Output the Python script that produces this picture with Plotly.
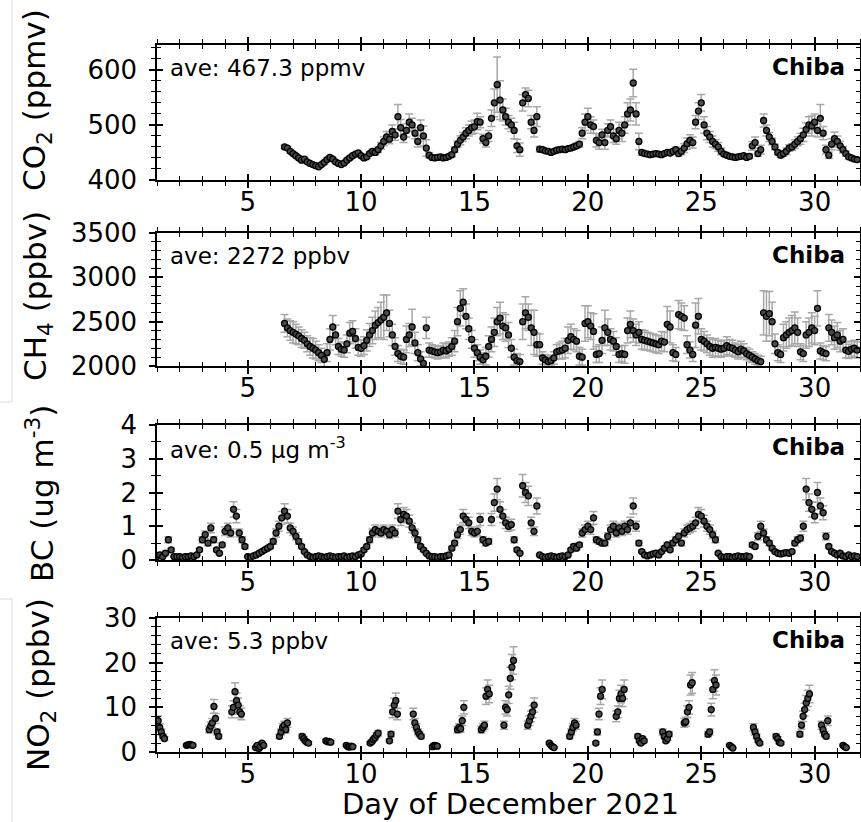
import plotly.graph_objects as go

# ---------------- data (3-hourly series; day of December 2021) ----------------
STEP = 0.125

co2_start = 6.625
co2_values = [
    460, 458, 452,
    448, 444, 440, 436, 438, 433, 430, 428,
    426, 424, 428, 432, 437, 441, 438, 433,
    430, 428, 431, 436, 440, 444, 447, 449,
    444, 440, 442, 448, 452, 450, 455, 462,
    470, 478, 474, 488, 482, 515, 495, 478,
    490, 505, 500, 485, 470, 495, 480, 458,
    445, 441, 440, 441, 442, 440, 441, 443,
    446, 455, 465, 472, 478, 485, 490, 495,
    497, 506, 505, 475, 468, 480, 512, 540,
    573, 545, 527, 515, 505, 500, 490, 462,
    455, 540, 555, 548, 505, 490, 515, 456,
    455, 453, 452, 450, 452, 454, 455, 456,
    455, 457, 458, 460, 462, 465, 485, 505,
    515, 500, 497, 472, 468, 482, 468, 490,
    497, 480, 475, 490, 485, 500, 520, 527,
    576, 520, 470, 450, 448, 447, 446, 447,
    448, 447, 446, 448, 450, 449, 452, 455,
    448, 452, 458, 466, 472, 468, 505, 525,
    540, 500, 485, 478, 470, 465, 460, 452,
    447, 445, 443, 442, 441, 442, 443, 444,
    441, 443, 462, 468, 448, 455, 508, 490,
    478, 470, 460, 450, 445, 448, 452, 458,
    460, 465, 470, 475, 482, 492, 500, 498,
    505, 490, 512, 485, 455, 445, 465, 475,
    470, 462, 455, 448, 442, 440, 438, 437,
]
co2_errors = [
    3, 3, 3,
    3, 3, 3, 3, 3, 3, 3, 3,
    3, 3, 3, 3, 3, 3, 3, 3,
    3, 3, 3, 3, 3, 3, 3, 3,
    3, 3, 3, 3, 4, 4, 5, 6,
    8, 10, 8, 12, 10, 22, 15, 10,
    12, 15, 12, 10, 10, 14, 18, 15,
    5, 3, 3, 3, 3, 3, 3, 3,
    4, 5, 6, 8, 8, 10, 10, 12,
    12, 15, 10, 8, 8, 10, 15, 25,
    50, 35, 20, 15, 12, 12, 15, 12,
    12, 15, 12, 15, 12, 12, 18, 5,
    4, 3, 3, 3, 3, 3, 3, 3,
    3, 3, 4, 4, 5, 5, 10, 15,
    15, 15, 12, 12, 12, 10, 12, 12,
    12, 12, 10, 15, 15, 15, 20, 20,
    25, 20, 15, 5, 4, 3, 3, 3,
    3, 3, 3, 3, 3, 4, 4, 5,
    5, 6, 8, 10, 10, 10, 12, 15,
    15, 15, 12, 10, 10, 8, 8, 6,
    3, 3, 3, 3, 3, 3, 3, 3,
    3, 4, 8, 10, 5, 8, 12, 10,
    8, 6, 5, 4, 4, 5, 6, 6,
    6, 8, 8, 10, 12, 12, 15, 18,
    15, 12, 25, 12, 8, 6, 10, 12,
    10, 8, 6, 5, 4, 3, 3, 3,
]

ch4_start = 6.625
ch4_values = [
    2480, 2430, 2400,
    2380, 2360, 2340, 2310, 2290, 2250, 2220, 2200,
    2180, 2150, 2120, 2075, 2150, 2300, 2440, 2350,
    2220, 2190, 2180, 2250, 2370, 2390, 2310, 2210,
    2200, 2230, 2290, 2350, 2400, 2460, 2490, 2520,
    2550, 2600, 2480, 2350, 2220, 2140, 2110, 2100,
    2300, 2350, 2440, 2260, 2150, 2080, 2030, 2430,
    2180, 2170, 2160, 2150, 2160, 2180, 2170, 2190,
    2220, 2280, 2500, 2650, 2720, 2560, 2420, 2300,
    2200, 2150, 2100, 2070, 2110, 2220, 2300, 2380,
    2500, 2540, 2450, 2430, 2350, 2200, 2100, 2060,
    2050, 2500, 2600, 2550, 2430, 2380, 2240, 2240,
    2090, 2070, 2050, 2060, 2090, 2160, 2170, 2180,
    2200, 2290, 2330, 2300, 2280, 2110, 2100, 2480,
    2500, 2450, 2390, 2130, 2140, 2290, 2430, 2380,
    2300, 2280, 2220, 2130, 2140, 2130, 2400, 2470,
    2400, 2350, 2380, 2300, 2290, 2280, 2270, 2260,
    2250, 2240, 2280, 2270, 2470, 2440, 2150, 2130,
    2580, 2560, 2540, 2240, 2180, 2130, 2460, 2560,
    2300, 2280, 2250, 2220, 2200, 2210, 2200, 2190,
    2200, 2230, 2210, 2200, 2180, 2160, 2190, 2170,
    2140, 2120, 2100, 2080, 2060, 2050, 2600, 2560,
    2590, 2500, 2250, 2150, 2130, 2320, 2350, 2380,
    2400, 2430, 2380, 2160, 2140, 2350, 2380, 2430,
    2400, 2650, 2170, 2150, 2140, 2430, 2380, 2320,
    2350, 2280, 2300, 2180, 2165, 2190, 2200, 2180,
]
ch4_errors = [
    100, 100, 110,
    120, 110, 100, 100, 90, 90, 100, 110,
    100, 90, 80, 80, 100, 120, 130, 110,
    90, 80, 80, 100, 120, 120, 110, 90,
    90, 100, 120, 130, 150, 160, 170, 200,
    250, 200, 150, 120, 100, 90, 80, 80,
    150, 130, 200, 120, 90, 80, 70, 120,
    80, 70, 70, 70, 70, 80, 80, 80,
    100, 120, 160, 200, 150, 140, 120, 100,
    100, 90, 80, 80, 100, 120, 140, 160,
    160, 180, 150, 150, 140, 100, 90, 80,
    80, 200, 180, 150, 200, 250, 130, 120,
    70, 60, 60, 60, 70, 80, 90, 100,
    110, 150, 140, 120, 120, 100, 90, 200,
    180, 150, 200, 90, 100, 150, 200, 150,
    120, 110, 100, 90, 90, 100, 140, 150,
    130, 120, 120, 110, 110, 100, 100, 100,
    100, 100, 110, 110, 200, 180, 90, 80,
    160, 150, 140, 100, 90, 80, 250, 200,
    120, 110, 100, 100, 100, 100, 90, 90,
    90, 100, 90, 90, 80, 80, 90, 80,
    70, 70, 60, 60, 60, 60, 250, 280,
    250, 220, 110, 90, 90, 150, 150, 160,
    170, 180, 160, 90, 90, 150, 160, 170,
    160, 200, 90, 80, 80, 150, 140, 130,
    140, 120, 120, 90, 80, 90, 90, 90,
]

bc_start = 1.0
bc_values = [
    0.1, 0.15, 0.1, 0.2, 0.6, 0.3, 0.1, 0.1,
    0.1, 0.08, 0.1, 0.1, 0.12, 0.1, 0.15, 0.3,
    0.6, 0.75, 0.5, 0.95, 0.6, 0.3, 0.2, 0.45,
    0.85, 0.95, 0.8, 1.5, 1.3, 0.8, 0.6, 0.4,
    0.1, 0.08, 0.12, 0.15, 0.2, 0.25, 0.3, 0.35,
    0.4, 0.55, 0.8, 1.0, 1.25, 1.45, 1.3, 0.95,
    0.85, 0.7, 0.55, 0.4, 0.25, 0.15, 0.1, 0.08,
    0.1, 0.12, 0.1, 0.08, 0.1, 0.12, 0.1, 0.08,
    0.1, 0.1, 0.12, 0.08, 0.1, 0.12, 0.1, 0.15,
    0.18, 0.3, 0.4, 0.6, 0.8, 0.9, 0.85, 0.8,
    0.9, 0.85, 0.75, 0.9, 0.8, 1.45, 1.2, 1.35,
    1.3, 1.15, 0.95, 0.8, 0.6, 0.4, 0.3, 0.2,
    0.12, 0.1, 0.1, 0.08, 0.1, 0.1, 0.12, 0.15,
    0.35, 0.5, 0.75, 0.9, 1.3, 1.2, 1.1, 0.85,
    0.8, 0.85, 1.2, 0.6, 0.5, 0.55, 1.2, 1.7,
    2.1, 1.5, 1.3, 1.1, 1.0, 1.05, 0.6, 0.3,
    0.2, 2.2, 2.0, 1.9, 1.1, 0.85, 1.6, 0.15,
    0.1, 0.08, 0.1, 0.12, 0.1, 0.08, 0.1, 0.12,
    0.1, 0.15, 0.3, 0.4, 0.35, 0.45, 0.8, 0.9,
    1.0, 0.9, 1.25, 0.6, 0.55, 0.5, 0.5, 0.7,
    0.9, 1.0, 0.8, 0.95, 0.85, 1.0, 0.9, 1.1,
    1.6, 1.0, 0.5, 0.25, 0.15, 0.12, 0.15, 0.18,
    0.2, 0.15, 0.25, 0.35, 0.45, 0.3, 0.5, 0.6,
    0.7, 0.5, 0.8, 0.9, 0.95, 1.0, 1.1, 1.35,
    1.3, 1.15, 1.0, 0.9, 0.75, 0.6, 0.2, 0.1,
    0.08, 0.1, 0.1, 0.08, 0.1, 0.12, 0.1, 0.1,
    0.12, 0.1, 0.45, 0.4, 0.7, 1.0, 0.8, 0.6,
    0.5, 0.35, 0.25, 0.2, 0.18, 0.2, 0.22, 0.2,
    0.25, 0.5, 0.6, 0.65, 1.0, 2.1, 1.7, 1.5,
    1.3, 2.0, 1.6, 1.4, 0.7, 0.4, 0.25, 0.2,
    0.15, 0.2, 0.12, 0.1, 0.15, 0.1, 0.12, 0.1,
]

# NO2 is measured in daytime clusters: cluster start day and its successive values
NO2_STEP = 0.07
no2_cluster_start = [1.05, 2.3, 3.3, 4.3, 5.35, 6.4, 7.4, 8.45, 9.35, 10.4,
                     11.25, 12.3, 13.15, 14.25, 15.3, 16.3, 17.35, 18.3, 19.2,
                     20.35, 21.25, 22.2, 23.3, 24.25, 25.3, 26.25, 27.3, 28.3,
                     29.35, 30.3, 31.25]
no2_cluster_values = [
    [7, 5.5, 4.5, 3.5, 3],
    [1.5, 1.6, 1.7, 1.6, 1.5],
    [5, 5.8, 6.5, 10.2, 7.5, 4.5, 3.5],
    [9, 10, 13.5, 11.5, 10.5, 9, 8.5],
    [1, 1.5, 0.8, 1.2, 2, 1.5],
    [3.5, 4.5, 5.5, 6, 5, 6.5],
    [3.5, 3, 2.5, 2.2, 2],
    [2.5, 2.3, 2.4, 2.2],
    [1.5, 1.2, 1.1, 1.3, 1.2],
    [2, 2.3, 2.8, 3.2, 3.8, 4.2],
    [2.5, 4, 9, 10.5, 11.5, 8.5],
    [8.5, 6.5, 5.5, 4.5, 4, 3.5],
    [1.2, 1.5, 1.4, 1.3],
    [5, 5.5, 5.2, 7, 10],
    [5, 5.5, 6, 12.5, 14, 13],
    [6, 10, 9.5, 12.8, 16.5, 19, 20.5],
    [6, 7, 8, 9, 10.5],
    [2, 1.5, 1.2, 1],
    [3.5, 4.5, 5.5, 6.5, 6],
    [2, 4.5, 8.5, 12.5, 14],
    [8, 9, 12, 13, 12, 14],
    [3.5, 2.5, 2, 3, 2.5],
    [4.5, 3.5, 2.5, 3, 4],
    [6.5, 6.8, 9, 10, 15, 15.5],
    [4, 4.5, 9.5, 14, 16, 15],
    [1.5, 1.2, 0.9],
    [5.5, 4.5, 3.5, 2.5, 2],
    [3.5, 3, 2.2, 2],
    [4, 6, 8, 9.5, 11, 12, 13],
    [6, 5, 4, 3.5, 7],
    [1.5, 1.2, 1],
]

ave_texts = ["ave: 467.3 ppmv", "ave: 2272 ppbv",
             "ave: 0.5 \u03bcg m<sup>-3</sup>", "ave: 5.3 ppbv"]
y_titles = ["CO<sub>2</sub> (ppmv)", "CH<sub>4</sub> (ppbv)",
            "BC (ug m<sup>-3</sup>)", "NO<sub>2</sub> (ppbv)"]
site_label = "Chiba"
x_title = "Day of December 2021"
x_range = [1, 32]
y_ranges = [[400, 645], [2000, 3500], [0, 4], [0, 30]]
y_dticks = [100, 500, 1, 10]
y_minor = [20, 100, 0.5, 2]

# ---------------- layout geometry (pixels of the 861x822 page) ----------------
W, H = 861, 822
ML, MR = 157, 1
PW = W - ML - MR
FONT = "DejaVu Sans"
panel_px = [(45, 180), (233, 366), (425, 560), (618, 752)]
domains = [[1 - b / H, 1 - t / H] for t, b in panel_px]
title_y_px = [100, 296, 494, 685]
title_x_px = [37, 37, 40, 40]


def px_x(px):
    return (px - ML) / PW


def px_y(py):
    return 1 - py / H


def days_from(start, n):
    return [start + i * STEP for i in range(n)]


no2_x, no2_y = [], []
for s, vals in zip(no2_cluster_start, no2_cluster_values):
    for k, v in enumerate(vals):
        no2_x.append(s + k * NO2_STEP)
        no2_y.append(v)

marker = dict(symbol="circle", size=6, color="#4a4a4a",
              line=dict(color="black", width=1.3))
err_style = dict(color="#a8a8a8", thickness=1.5, width=4, visible=True)

series = [
    (days_from(co2_start, len(co2_values)), co2_values,
     dict(type="data", array=co2_errors, **err_style)),
    (days_from(ch4_start, len(ch4_values)), ch4_values,
     dict(type="data", array=ch4_errors, **err_style)),
    (days_from(bc_start, len(bc_values)), bc_values,
     dict(type="percent", value=15, **err_style)),
    (no2_x, no2_y, dict(type="percent", value=15, **err_style)),
]

fig = go.Figure()
for i, (xs, ys, err) in enumerate(series):
    n = i + 1
    sfx = "" if n == 1 else str(n)
    fig.add_trace(go.Scatter(x=xs, y=ys, mode="markers", marker=marker,
                             error_y=err, xaxis="x" + sfx, yaxis="y" + sfx,
                             showlegend=False, hoverinfo="skip"))
    # empty trace on the overlay axes (carries the inward half of crossing ticks)
    fig.add_trace(go.Scatter(x=[], y=[], xaxis="x" + str(n + 4),
                             yaxis="y" + str(n + 4), showlegend=False,
                             hoverinfo="skip"))

layout = dict(
    width=W, height=H,
    margin=dict(l=ML, r=MR, t=0, b=0, autoexpand=False),
    paper_bgcolor="white", plot_bgcolor="rgba(0,0,0,0)",
    font=dict(family=FONT, color="black"),
    showlegend=False,
)

tickfont = dict(family=FONT, size=26, color="black")
annotations = []
for i in range(4):
    n = i + 1
    sfx = "" if n == 1 else str(n)
    common_x = dict(range=x_range, tickmode="linear", tick0=0, dtick=5,
                    showgrid=False, zeroline=False, mirror="allticks",
                    tickcolor="black", tickwidth=1.5, ticklen=6,
                    automargin=False)
    common_y = dict(range=y_ranges[i], tickmode="linear", tick0=0,
                    dtick=y_dticks[i], showgrid=False, zeroline=False,
                    mirror="allticks", tickcolor="black", tickwidth=1.5,
                    ticklen=6, automargin=False)
    layout["xaxis" + sfx] = dict(
        **common_x, domain=[0, 1], anchor="y" + sfx, ticks="outside",
        showline=True, linecolor="black", linewidth=1.5,
        tickfont=tickfont, ticklabelstandoff=-8,
        minor=dict(ticks="outside", ticklen=4, dtick=1, tick0=0,
                   tickcolor="black", tickwidth=1.2))
    layout["yaxis" + sfx] = dict(
        **common_y, domain=domains[i], anchor="x" + sfx, ticks="outside",
        showline=True, linecolor="black", linewidth=1.5,
        tickfont=tickfont, ticklabelstandoff=7,
        minor=dict(ticks="outside", ticklen=4, dtick=y_minor[i],
                   tick0=0, tickcolor="black", tickwidth=1.2))
    layout["xaxis" + str(n + 4)] = dict(
        **common_x, overlaying="x" + sfx, anchor="y" + str(n + 4),
        ticks="inside", showticklabels=False, showline=False,
        minor=dict(ticks="inside", ticklen=4, dtick=1, tick0=0,
                   tickcolor="black", tickwidth=1.2))
    layout["yaxis" + str(n + 4)] = dict(
        **common_y, overlaying="y" + sfx, anchor="x" + str(n + 4),
        side="left", ticks="inside", showticklabels=False, showline=False,
        minor=dict(ticks="inside", ticklen=4, dtick=y_minor[i],
                   tick0=0, tickcolor="black", tickwidth=1.2))

    annotations.append(dict(text=ave_texts[i], xref="x" + sfx + " domain",
                            yref="y" + sfx + " domain", x=0.016, y=0.83,
                            xanchor="left", yanchor="middle", showarrow=False,
                            font=dict(family=FONT, size=23, color="black")))
    annotations.append(dict(text="<b>" + site_label + "</b>",
                            xref="x" + sfx + " domain",
                            yref="y" + sfx + " domain", x=0.982, y=0.835,
                            xanchor="right", yanchor="middle", showarrow=False,
                            font=dict(family=FONT, size=23, color="black")))
    annotations.append(dict(text=y_titles[i], xref="paper", yref="paper",
                            x=px_x(title_x_px[i]), y=px_y(title_y_px[i]),
                            xanchor="center", yanchor="middle",
                            textangle=-90, showarrow=False,
                            font=dict(family=FONT, size=31, color="black")))

annotations.append(dict(text=x_title, xref="paper", yref="paper",
                        x=px_x(510), y=px_y(804), xanchor="center",
                        yanchor="middle", showarrow=False,
                        font=dict(family=FONT, size=29, color="black")))
layout["annotations"] = annotations
fig.update_layout(**layout)

# faint frame lines visible at the left edge of the original figure
edge = "#dcdcdc"
for x0, x1, y0, y1 in [(12, 12, 0, 402), (0, 12, 402, 402),
                       (0, 12, 599, 599), (12, 12, 599, 822)]:
    fig.add_shape(type="line", xref="paper", yref="paper",
                  x0=px_x(x0), x1=px_x(x1), y0=px_y(y0), y1=px_y(y1),
                  line=dict(color=edge, width=1))

fig.write_html("out.html")
